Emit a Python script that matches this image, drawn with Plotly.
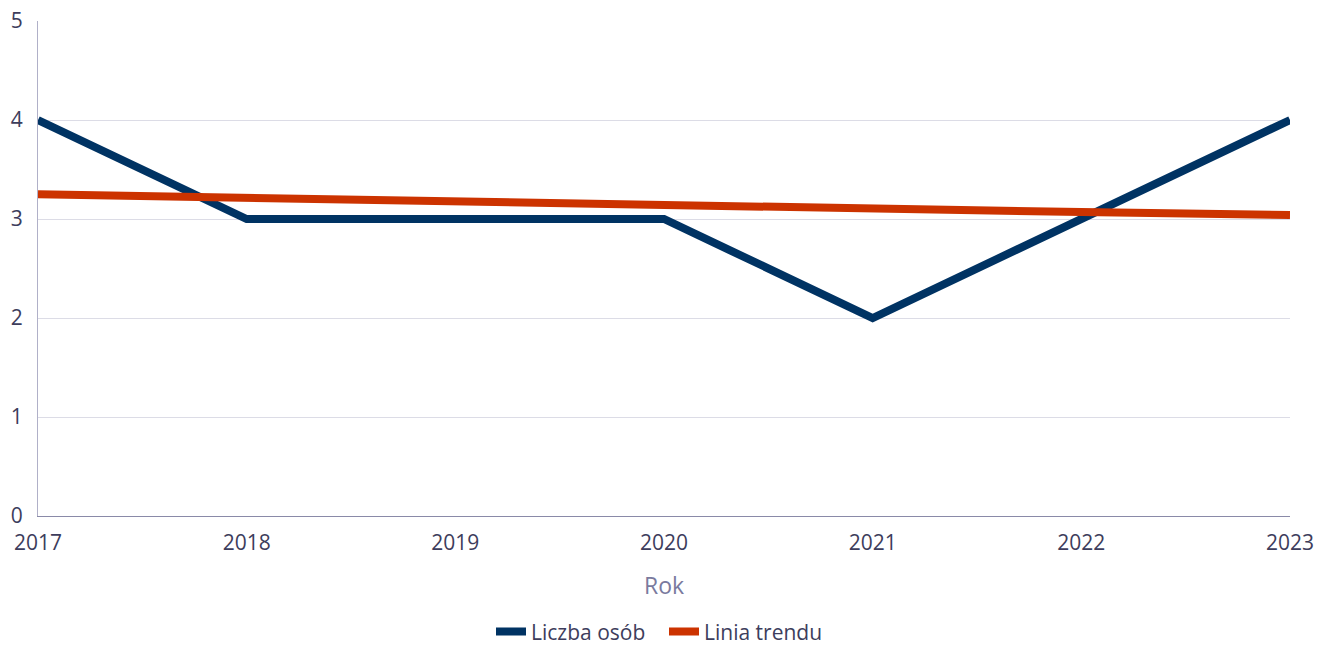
import plotly.graph_objects as go

years = [2017, 2018, 2019, 2020, 2021, 2022, 2023]
liczba_osob = [4, 3, 3, 3, 2, 3, 4]
linia_trendu = [3.25, 3.21, 3.18, 3.14, 3.11, 3.07, 3.04]

fig = go.Figure()
fig.add_trace(go.Scatter(x=years, y=liczba_osob, mode="lines", name="Liczba osób",
                         line=dict(color="#003363", width=8)))
fig.add_trace(go.Scatter(x=years, y=linia_trendu, mode="lines", name="Linia trendu",
                         line=dict(color="#CC3300", width=8)))

font_family = "Open Sans, Noto Sans, sans-serif"
# page body has an 8px margin, so the figure is offset by 8px
fig.update_layout(
    width=1316, height=639,
    margin=dict(l=30, r=34, t=13, b=131, autoexpand=False),
    plot_bgcolor="white", paper_bgcolor="white",
    font=dict(family=font_family, size=21, color="#3d3d5c"),
    showlegend=True,
    legend=dict(orientation="h", x=0.5, xanchor="center", y=-0.234, yanchor="middle",
                font=dict(size=21, color="#3d3d5c"), itemwidth=30,
                entrywidth=128, entrywidthmode="pixels"),
    xaxis=dict(
        range=[2017, 2023], tickmode="array", tickvals=years,
        ticktext=[str(y) for y in years],
        showgrid=False, showline=True, linecolor="#8a8aa8", linewidth=1,
        ticks="", zeroline=False, automargin=False, ticklabelstandoff=8,
        ticklabeloverflow="allow",
        title=dict(text="Rok", font=dict(size=23, color="#7a7a9e"), standoff=22),
    ),
    yaxis=dict(
        range=[0, 5], tickvals=[0, 1, 2, 3, 4, 5],
        showgrid=True, gridcolor="#dcdce6", gridwidth=1,
        showline=True, linecolor="#b0b0c8", linewidth=1,
        zeroline=False, ticks="", ticklabelstandoff=10, automargin=False,
        ticklabeloverflow="allow",
    ),
)

fig.write_html("out.html")
